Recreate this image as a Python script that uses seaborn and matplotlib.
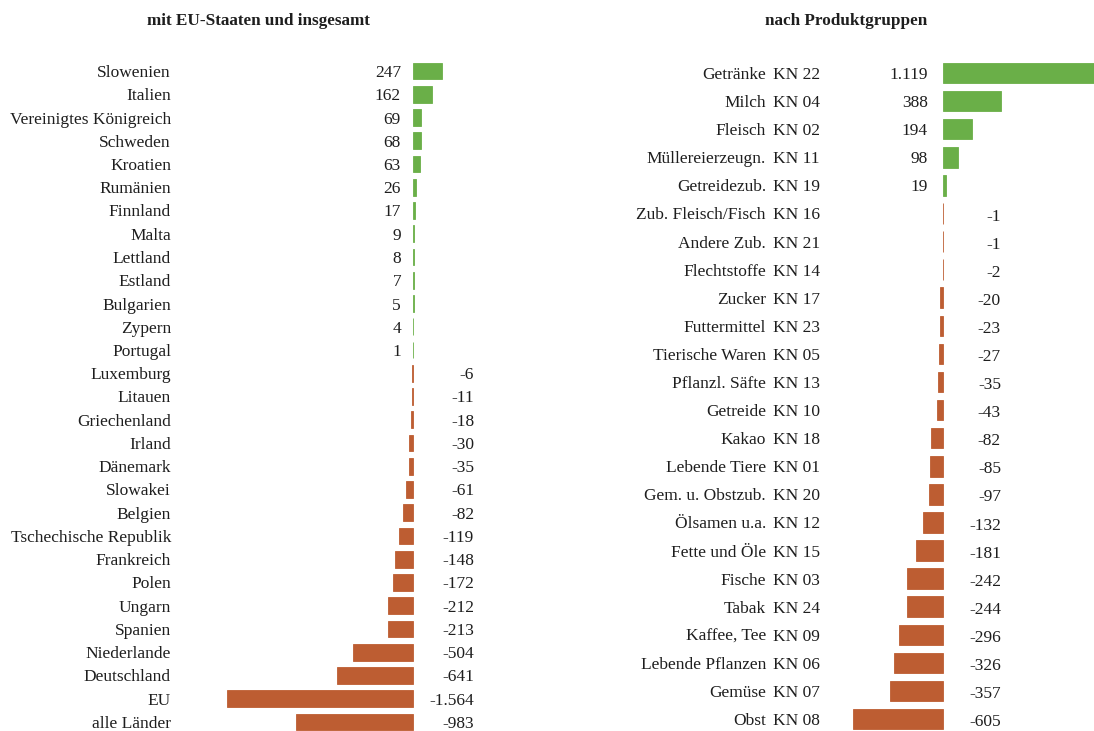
import pandas as pd
import numpy as np
import matplotlib
matplotlib.use("Agg")
import matplotlib.pyplot as plt
import matplotlib.transforms as mtrans
import seaborn as sns

# linke Grafik: Saldo mit EU-Staaten und insgesamt
laender = ["Slowenien", "Italien", "Vereinigtes Königreich", "Schweden", "Kroatien",
           "Rumänien", "Finnland", "Malta", "Lettland", "Estland", "Bulgarien", "Zypern",
           "Portugal", "Luxemburg", "Litauen", "Griechenland", "Irland", "Dänemark",
           "Slowakei", "Belgien", "Tschechische Republik", "Frankreich", "Polen", "Ungarn",
           "Spanien", "Niederlande", "Deutschland", "EU", "alle Länder"]
saldo_laender = [247, 162, 69, 68, 63, 26, 17, 9, 8, 7, 5, 4, 1, -6, -11, -18, -30, -35,
                 -61, -82, -119, -148, -172, -212, -213, -504, -641, -1564, -983]

# rechte Grafik: nach Produktgruppen
produkte = ["Getränke", "Milch", "Fleisch", "Müllereierzeugn.", "Getreidezub.",
            "Zub. Fleisch/Fisch", "Andere Zub.", "Flechtstoffe", "Zucker", "Futtermittel",
            "Tierische Waren", "Pflanzl. Säfte", "Getreide", "Kakao", "Lebende Tiere",
            "Gem. u. Obstzub.", "Ölsamen u.a.", "Fette und Öle", "Fische", "Tabak",
            "Kaffee, Tee", "Lebende Pflanzen", "Gemüse", "Obst"]
kn_codes = ["KN 22", "KN 04", "KN 02", "KN 11", "KN 19", "KN 16", "KN 21", "KN 14",
            "KN 17", "KN 23", "KN 05", "KN 13", "KN 10", "KN 18", "KN 01", "KN 20",
            "KN 12", "KN 15", "KN 03", "KN 24", "KN 09", "KN 06", "KN 07", "KN 08"]
saldo_produkte = [1119, 388, 194, 98, 19, -1, -1, -2, -20, -23, -27, -35, -43, -82, -85,
                  -97, -132, -181, -242, -244, -296, -326, -357, -605]

GRUEN = "#6aaf48"
ORANGE = "#bd5d32"
TXT = "#1e1e1e"

sns.set_style("white")
plt.rcParams["font.family"] = ["Liberation Serif", "DejaVu Serif"]
fs = 12.5

W, H = 1094, 731
fig = plt.figure(figsize=(W / 100, H / 100), dpi=100)


def fmt(v):
    return f"{v:,}".replace(",", ".")


def panel(ax, cats, vals, row0, dy, zero_px, scale):
    df = pd.DataFrame({"kat": cats, "wert": vals})
    df["vz"] = np.where(df["wert"] >= 0, "pos", "neg")
    sns.barplot(data=df, x="wert", y="kat", hue="vz", palette={"pos": GRUEN, "neg": ORANGE},
                dodge=False, legend=False, width=0.73, saturation=1, ax=ax)
    # duenne Balken sichtbar halten
    for p in ax.patches:
        p.set_edgecolor(p.get_facecolor())
        p.set_linewidth(0.6)
    l, r = ax.get_position().x0 * W, ax.get_position().x1 * W
    ax.set_xlim((l - zero_px) / scale, (r - zero_px) / scale)
    ax.set_ylim((H - row0) / dy, -row0 / dy)
    ax.axis("off")
    return df


def fx(px):
    return px / W


# linkes Panel
ax1 = fig.add_axes([fx(200), 0, fx(300), 1])
d1 = panel(ax1, laender, saldo_laender, 71, 23.25, 413, 0.119)
tr1 = mtrans.blended_transform_factory(fig.transFigure, ax1.transData)
o1 = 2.0 / 23.25
for i, (k, v) in enumerate(zip(laender, saldo_laender)):
    ax1.text(fx(171), i + o1, k, transform=tr1, ha="right", va="center", fontsize=fs, color=TXT)
    xpos = fx(401) if v >= 0 else fx(474)
    ax1.text(xpos, i + o1, fmt(v), transform=tr1, ha="right", va="center", fontsize=fs, color=TXT)

# rechtes Panel
ax2 = fig.add_axes([fx(840), 0, fx(254), 1])
d2 = panel(ax2, produkte, saldo_produkte, 73, 28.09, 943, 0.149)
tr2 = mtrans.blended_transform_factory(fig.transFigure, ax2.transData)
o2 = 2.0 / 28.09
for i, (k, c, v) in enumerate(zip(produkte, kn_codes, saldo_produkte)):
    ax2.text(fx(766), i + o2, k, transform=tr2, ha="right", va="center", fontsize=fs, color=TXT)
    ax2.text(fx(773), i + o2, c, transform=tr2, ha="left", va="center", fontsize=fs, color=TXT)
    if v >= 0:
        ax2.text(fx(928), i + o2, fmt(v), transform=tr2, ha="right", va="center", fontsize=fs, color=TXT)
    else:
        ax2.text(fx(1001), i + o2 + 0.04, fmt(v), transform=tr2, ha="right", va="center",
                 fontsize=fs, color=TXT)

fig.text(fx(258), 1 - 21 / H, "mit EU-Staaten und insgesamt", ha="center", va="center",
         fontsize=12.3, fontweight="bold", color=TXT)
fig.text(fx(846), 1 - 21 / H, "nach Produktgruppen", ha="center", va="center",
         fontsize=12.3, fontweight="bold", color=TXT)

fig.savefig("out.png", dpi=100)
